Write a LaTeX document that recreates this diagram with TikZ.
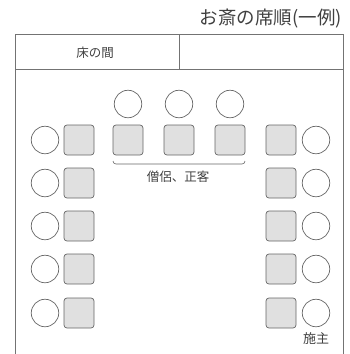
\documentclass[tikz,border=0pt]{standalone}
\usepackage{fontspec}
\setmainfont{Noto Sans CJK JP}
\begin{document}
\begin{tikzpicture}[x=1pt,y=-1pt,
  line/.style={draw=black!55, line width=0.8pt},
  seat/.style={circle, draw=black!60, line width=0.7pt, minimum size=27.5pt, inner sep=0pt, fill=white},
  mat/.style={rectangle, rounded corners=3pt, draw=black!60, line width=0.7pt, fill=black!12, minimum width=30pt, minimum height=30pt, inner sep=0pt},
  lbl/.style={text=black!75, inner sep=0pt, font=\fontsize{12.5pt}{14pt}\selectfont}]
\useasboundingbox (0,0) rectangle (349,354);
% title
\node[text=black!75, inner sep=0pt, anchor=east, font=\fontsize{18.5pt}{20pt}\selectfont] (title) at (342,19) {お斎の席順(一例)};
% frame
\draw[line] (15,360) -- (15,34) -- (343,34) -- (343,360);
\draw[line] (15,69) -- (343,69);
\draw[line] (179,34) -- (179,69);
\node[lbl] (toko) at (95,53) {床の間};
% top seats
\foreach \i/\x in {1/128,2/179,3/230} {
  \node[seat] (t\i) at (\x,104) {};
  \node[mat] (tm\i) at (\x,140) {};
}
% side seats
\foreach \i/\y in {1/140,2/183,3/226,4/269,5/313} {
  \node[seat] (l\i) at (45,\y) {};
  \node[mat] (lm\i) at (79,\y) {};
  \node[mat] (rm\i) at (281,\y) {};
  \node[seat] (r\i) at (316,\y) {};
}
% bracket
\coordinate (b1) at (113,161);
\coordinate (b2) at (245,161);
\draw[black!60, line width=0.6pt] (b1) to[out=-90,in=180] ++(3,3) -- ++(126,0) to[out=0,in=-90] (b2);
\node[lbl] (souryo) at (178,177) {僧侶、正客};
\node[lbl, font=\fontsize{13pt}{15pt}\selectfont] (seshu) at (316,339) {施主};
\end{tikzpicture}
\end{document}
